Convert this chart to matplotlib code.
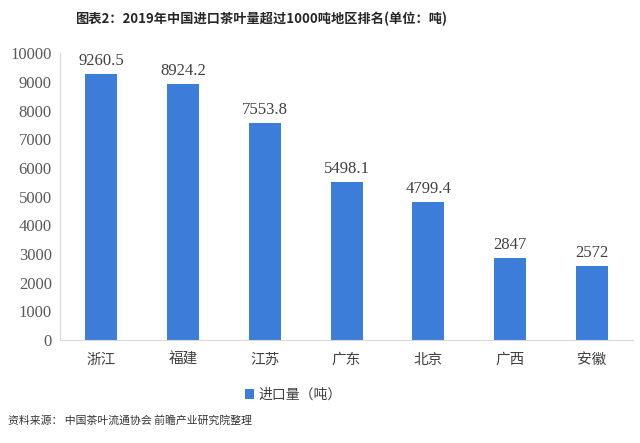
import matplotlib.pyplot as plt
import numpy as np

plt.rcParams["font.family"] = ["Noto Sans CJK SC", "DejaVu Sans"]

regions = ["浙江", "福建", "江苏", "广东", "北京", "广西", "安徽"]
imports = [9260.5, 8924.2, 7553.8, 5498.1, 4799.4, 2847, 2572]
value_labels = ["9260.5", "8924.2", "7553.8", "5498.1", "4799.4", "2847", "2572"]
yticks = list(range(0, 10001, 1000))

BAR = "#3b7dd8"
SERIF = "Liberation Serif"

fig = plt.figure(figsize=(6.4, 4.43), dpi=100)
ax = fig.add_axes([0.094, 0.2325, 0.895, 0.6475])

x = np.arange(len(regions))
ax.bar(x, imports, width=0.39, color=BAR, label="进口量（吨）", zorder=2)

for xi, v, lab in zip(x, imports, value_labels):
    ax.text(xi, v + 180, lab, ha="center", va="bottom", fontsize=12,
            family=SERIF, color="#404040")

ax.set_xlim(-0.5, len(regions) - 0.5)
ax.set_ylim(0, 10000)
ax.set_yticks(yticks)
ax.set_yticklabels([str(t) for t in yticks], family=SERIF, fontsize=12,
                   color="#595959")
ax.set_xticks(x)
ax.set_xticklabels(regions, fontsize=10.5, color="#404040")
ax.tick_params(axis="both", length=0, pad=6)
ax.tick_params(axis="x", pad=9)

for s in ["top", "right"]:
    ax.spines[s].set_visible(False)
ax.spines["left"].set_color("#d9d9d9")
ax.spines["bottom"].set_color("#d9d9d9")

fig.text(0.408, 0.958, "图表2：2019年中国进口茶叶量超过1000吨地区排名(单位：吨)",
         ha="center", va="center", fontsize=9.5, fontweight="bold",
         color="#262626")

ax.legend(loc="center", bbox_to_anchor=(0.407, -0.19), frameon=False,
          fontsize=10, handlelength=0.7, handleheight=0.7, handletextpad=0.3,
          labelcolor="#404040")

fig.text(0.012, 0.052, "资料来源： 中国茶叶流通协会 前瞻产业研究院整理",
         ha="left", va="center", fontsize=7.8, color="#333333")

fig.savefig("out.png", dpi=100, facecolor="white")
